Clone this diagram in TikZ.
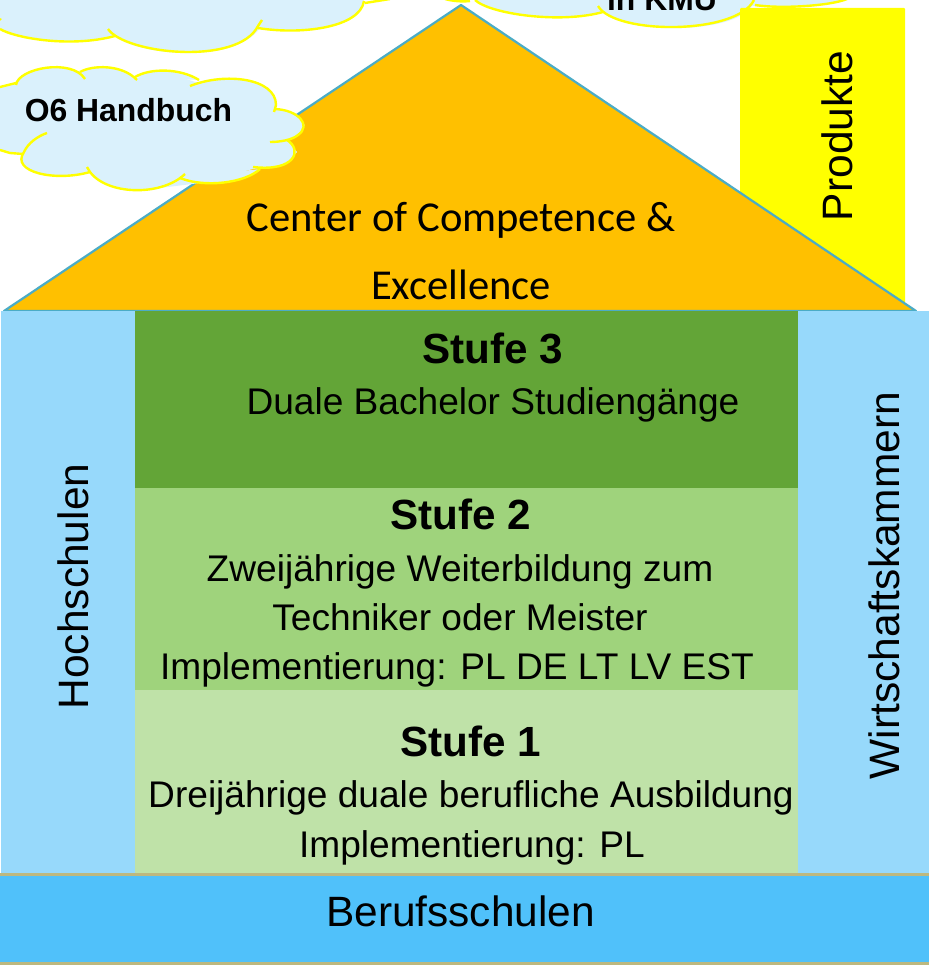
\documentclass[tikz,border=0pt]{standalone}
\usepackage{fontspec}
\setmainfont{Liberation Sans}
\newfontfamily\calibrifont{Carlito}
\definecolor{cloudfill}{HTML}{DAF1FC}
\definecolor{cloudedge}{HTML}{FFFF00}
\definecolor{roofgold}{HTML}{FFC000}
\definecolor{roofedge}{HTML}{4BACC6}
\definecolor{sidecol}{HTML}{97D9FB}
\definecolor{stufedrei}{HTML}{63A537}
\definecolor{stufezwei}{HTML}{9FD37C}
\definecolor{stufeeins}{HTML}{BFE2A8}
\definecolor{basecol}{HTML}{50C1FA}
\definecolor{baseedge}{HTML}{BDB87F}
\tikzset{
  x=1pt,y=-1pt,
  cloudfillstyle/.style={fill=cloudfill,draw=none},
  cloudarc/.style={draw=cloudedge,line width=2.4pt,line cap=butt,fill=none},
  bodytext/.style={anchor=base,inner sep=0pt,font=\fontsize{37.1}{37}\selectfont,text=black},
  headtext/.style={anchor=base,inner sep=0pt,font=\fontsize{42.2}{42}\selectfont\bfseries,text=black},
  sidetext/.style={anchor=base,inner sep=0pt,rotate=90,font=\fontsize{42.5}{42}\selectfont,text=black},
  cloudtext/.style={anchor=base,inner sep=0pt,font=\fontsize{31.9}{32}\selectfont\bfseries,text=black},
  rooftext/.style={anchor=base,inner sep=0pt,font=\calibrifont\fontsize{42.6}{43}\selectfont,text=black},
}
\begin{document}
\begin{tikzpicture}
\useasboundingbox (0,0) rectangle (929,966);
\clip (0,0) rectangle (929,966);
\fill[white] (0,0) rectangle (929,966);

% top clouds (cut off by the picture edge)
\fill[cloudfillstyle] (0,0) -- (0,29)
  .. controls (15,38) and (70,48) .. (115,36)
  .. controls (135,54) and (232,66) .. (260,28)
  .. controls (300,35) and (355,28) .. (364,3)
  -- (364,0) -- cycle;
\fill[cloudfillstyle] (475,0)
  .. controls (490,14) and (560,24) .. (603,12)
  .. controls (625,34) and (732,35) .. (752,6)
  .. controls (780,9) and (830,6) .. (845,0) -- cycle;
\draw[cloudarc] (0,19) -- (1,20);
\draw[cloudarc] (0,29) .. controls (15,38) and (70,48) .. (115,36);
\draw[cloudarc] (108,29) .. controls (125,54) and (238,66) .. (258,26) -- (262,20);
\draw[cloudarc] (258,28) .. controls (300,35) and (360,28) .. (364,1);
\draw[cloudarc] (365,3) -- (390,-1);
\draw[cloudarc] (445,-1) .. controls (452,1) and (462,2) .. (470,1);
\draw[cloudarc] (475,0) .. controls (490,14) and (560,24) .. (603,12);
\draw[cloudarc] (598,6) .. controls (615,35) and (737,35) .. (754,0);
\draw[cloudarc] (755,5) .. controls (780,9) and (830,6) .. (847,-1);

% product panel
\fill[cloudedge,rounded corners=1pt] (740,8) rectangle (905,312);

% roof
\filldraw[fill=roofgold,draw=roofedge,line width=2.2pt,line join=round] (4,311) -- (461,5) -- (916,311) -- cycle;

% handbook cloud
\fill[cloudfillstyle] (0,87) -- (16,83) -- (50,68) -- (84,72) -- (107,68) -- (137,78) -- (163,71) -- (195,82)
  -- (262,85) -- (276,109) -- (305,125) -- (287,140) -- (297,152) -- (285,165) -- (253,169) -- (200,183)
  -- (135,191) -- (87,170) -- (35,170) -- (23,154) -- (0,150) -- cycle;
\path[cloudfillstyle]
  (16,83) .. controls (18,68) and (72,58) .. (85,78)
  (80,72) .. controls (92,65) and (122,64) .. (137,80)
  (135,77) .. controls (150,68) and (180,68) .. (199,80)
  (190,86) .. controls (225,72) and (276,78) .. (276,105) -- (274,112)
  (275,109) .. controls (298,110) and (312,125) .. (298,135) .. controls (292,140) and (280,142) .. (270,142)
  (287,140) .. controls (303,150) and (295,172) .. (253,167)
  (260,169) .. controls (245,183) and (205,188) .. (180,178)
  (185,174) .. controls (160,198) and (100,195) .. (87,167)
  (90,172) .. controls (55,182) and (10,172) .. (24,152) .. controls (28,143) and (38,136) .. (47,133)
  ;
\draw[cloudarc] (0,87) -- (16,83);
\draw[cloudarc] (16,85) .. controls (18,68) and (72,58) .. (85,79);
\draw[cloudarc] (80,72) .. controls (92,65) and (122,64) .. (137,80);
\draw[cloudarc] (135,77) .. controls (150,68) and (180,68) .. (199,80);
\draw[cloudarc] (190,86) .. controls (225,72) and (276,78) .. (276,105) -- (274,112);
\draw[cloudarc] (275,109) .. controls (298,110) and (312,125) .. (298,135) .. controls (292,140) and (280,142) .. (270,142);
\draw[cloudarc] (287,140) .. controls (303,150) and (295,172) .. (253,167);
\draw[cloudarc] (260,169) .. controls (245,183) and (205,188) .. (180,178);
\draw[cloudarc] (185,174) .. controls (160,198) and (100,195) .. (87,167);
\draw[cloudarc] (90,172) .. controls (55,182) and (10,172) .. (24,152) .. controls (28,143) and (38,136) .. (47,133);
\draw[cloudarc] (23,154) -- (10,153) -- (0,150);

% pillars and storeys
\fill[sidecol] (1,311) rectangle (135,874);
\fill[sidecol] (798,311) rectangle (929,874);
\fill[stufedrei] (135,311) rectangle (798,488);
\fill[stufezwei] (135,488) rectangle (798,690);
\fill[stufeeins] (135,690) rectangle (798,874);

% foundation
\fill[basecol] (0,874) rectangle (929,963);
\fill[baseedge] (0,873) rectangle (929,876);
\fill[baseedge] (0,962) rectangle (929,964.5);

% texts
\node[cloudtext] (kmu) at (662,11) {in KMU};
\node[cloudtext] (handbuch) at (128.5,121) {O6 Handbuch};
\node[sidetext] (produkte) at (852,136) {Produkte};
\node[rooftext] (roofa) at (461,231) {Center of Competence \&};
\node[rooftext] (roofb) at (461,299) {Excellence};
\node[headtext] (s3) at (493,363) {Stufe 3};
\node[bodytext] (s3a) at (493,414) {Duale Bachelor Studiengänge};
\node[headtext] (s2) at (460.5,529) {Stufe 2};
\node[bodytext] (s2a) at (460,581) {Zweijährige Weiterbildung zum};
\node[bodytext] (s2b) at (460,630.5) {Techniker oder Meister};
\node[bodytext] (s2c) at (457,679) {Implementierung: PL DE LT LV EST};
\node[headtext] (s1) at (470.5,756) {Stufe 1};
\node[bodytext] (s1a) at (471,807) {Dreijährige duale berufliche Ausbildung};
\node[bodytext] (s1b) at (472,857) {Implementierung: PL};
\node[sidetext] (hoch) at (88,586.5) {Hochschulen};
\node[sidetext] (wirt) at (899,585.5) {Wirtschaftskammern};
\node[anchor=base,inner sep=0pt,font=\fontsize{42.4}{42}\selectfont] (beruf) at (460.5,926) {Berufsschulen};
\end{tikzpicture}
\end{document}
